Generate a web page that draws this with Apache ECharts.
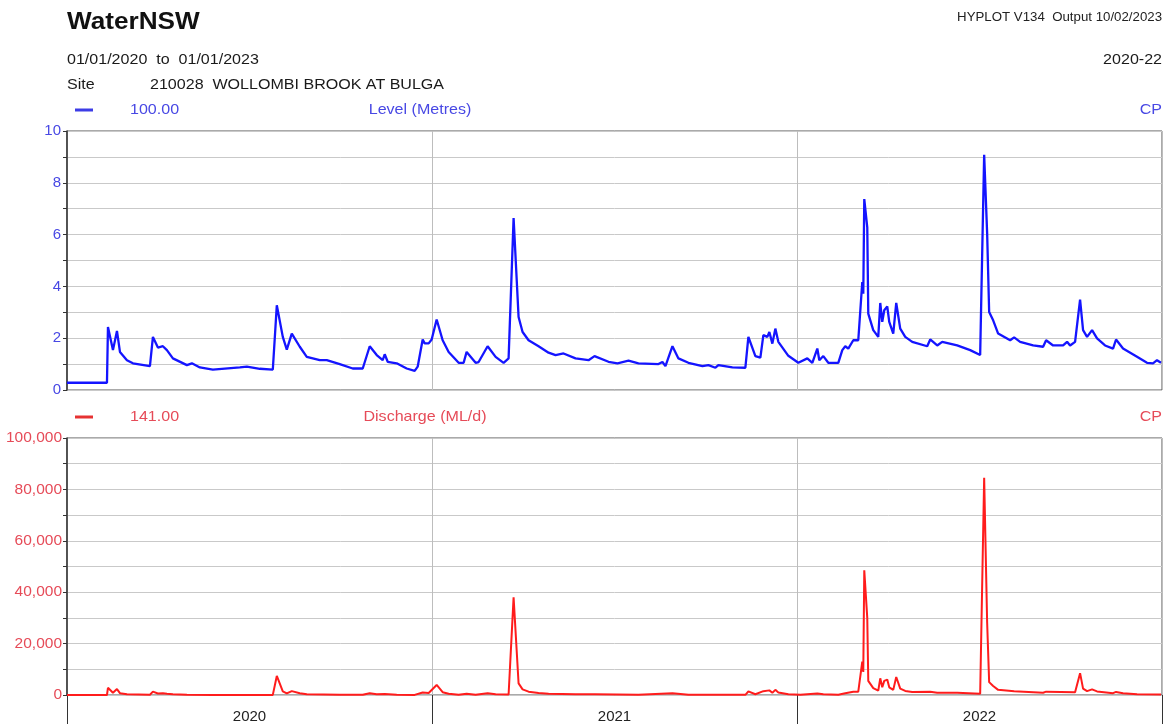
<!DOCTYPE html>
<html>
<head>
<meta charset="utf-8">
<title>WaterNSW - 210028 Wollombi Brook at Bulga</title>
<script src="https://cdn.jsdelivr.net/npm/echarts@6/dist/echarts.min.js"></script>
<style>
  html, body { margin: 0; padding: 0; background: #ffffff; }
  #chart { width: 1168px; height: 724px; }
</style>
</head>
<body>
<div id="chart"></div>
<script>
// Year bands shown along the time axis
const yearLabels = ['2020', '2021', '2022'];

// Level (Metres), gauge 210028
const levelData = [
  ['2020-01-01', 0.28], ['2020-02-10', 0.28], ['2020-02-11', 2.43], ['2020-02-16', 1.54],
  ['2020-02-20', 2.28], ['2020-02-23', 1.47], ['2020-03-01', 1.15], ['2020-03-07', 1.03],
  ['2020-03-24', 0.92], ['2020-03-27', 2.05], ['2020-04-01', 1.64], ['2020-04-06', 1.69],
  ['2020-04-10', 1.54], ['2020-04-16', 1.22], ['2020-04-30', 0.96], ['2020-05-05', 1.03],
  ['2020-05-13', 0.87], ['2020-05-26', 0.79], ['2020-06-22', 0.87], ['2020-06-29', 0.90],
  ['2020-07-12', 0.82], ['2020-07-25', 0.79], ['2020-07-29', 3.27], ['2020-08-04', 2.05],
  ['2020-08-08', 1.56], ['2020-08-13', 2.18], ['2020-08-21', 1.67], ['2020-08-28', 1.28],
  ['2020-09-10', 1.15], ['2020-09-17', 1.15], ['2020-09-30', 1.00], ['2020-10-13', 0.83],
  ['2020-10-23', 0.83], ['2020-10-30', 1.69], ['2020-11-06', 1.35], ['2020-11-12', 1.15],
  ['2020-11-14', 1.38], ['2020-11-17', 1.09], ['2020-11-26', 1.03], ['2020-12-06', 0.83],
  ['2020-12-14', 0.74], ['2020-12-17', 0.90], ['2020-12-22', 1.95], ['2020-12-24', 1.80],
  ['2020-12-28', 1.80], ['2020-12-31', 1.95], ['2021-01-02', 1.92], ['2021-01-05', 2.72],
  ['2021-01-11', 1.92], ['2021-01-17', 1.47], ['2021-01-27', 1.05], ['2021-02-01', 1.05],
  ['2021-02-04', 1.47], ['2021-02-13', 1.05], ['2021-02-16', 1.08], ['2021-02-25', 1.69],
  ['2021-03-05', 1.28], ['2021-03-13', 1.05], ['2021-03-18', 1.22], ['2021-03-23', 6.64],
  ['2021-03-28', 2.82], ['2021-04-01', 2.24], ['2021-04-07', 1.92], ['2021-04-17', 1.69],
  ['2021-04-27', 1.44], ['2021-05-04', 1.35], ['2021-05-12', 1.41], ['2021-05-24', 1.22],
  ['2021-06-06', 1.15], ['2021-06-12', 1.31], ['2021-06-26', 1.09], ['2021-07-05', 1.03],
  ['2021-07-16', 1.13], ['2021-07-26', 1.03], ['2021-08-15', 1.00], ['2021-08-19', 1.08],
  ['2021-08-22', 0.92], ['2021-08-29', 1.69], ['2021-09-04', 1.22], ['2021-09-14', 1.05],
  ['2021-09-28', 0.92], ['2021-10-04', 0.96], ['2021-10-11', 0.86], ['2021-10-14', 0.96],
  ['2021-10-28', 0.87], ['2021-11-10', 0.86], ['2021-11-13', 2.05], ['2021-11-20', 1.31],
  ['2021-11-25', 1.25], ['2021-11-28', 2.12], ['2021-12-02', 2.05], ['2021-12-04', 2.24],
  ['2021-12-07', 1.79], ['2021-12-10', 2.37], ['2021-12-13', 1.86], ['2021-12-23', 1.32],
  ['2022-01-02', 1.05], ['2022-01-04', 1.05], ['2022-01-11', 1.22], ['2022-01-16', 1.05],
  ['2022-01-21', 1.60], ['2022-01-23', 1.15], ['2022-01-27', 1.31], ['2022-02-01', 1.05],
  ['2022-02-11', 1.05], ['2022-02-15', 1.54], ['2022-02-18', 1.69], ['2022-02-21', 1.60],
  ['2022-02-26', 1.92], ['2022-03-03', 1.92], ['2022-03-07', 4.17], ['2022-03-08', 3.72],
  ['2022-03-09', 7.37], ['2022-03-12', 6.28], ['2022-03-13', 2.95], ['2022-03-18', 2.31],
  ['2022-03-23', 2.05], ['2022-03-25', 3.36], ['2022-03-27', 2.63], ['2022-03-29', 3.08],
  ['2022-04-01', 3.23], ['2022-04-03', 2.63], ['2022-04-07', 2.18], ['2022-04-10', 3.36],
  ['2022-04-14', 2.37], ['2022-04-19', 2.05], ['2022-04-26', 1.86], ['2022-05-11', 1.69],
  ['2022-05-14', 1.95], ['2022-05-21', 1.72], ['2022-05-26', 1.86], ['2022-06-10', 1.72],
  ['2022-06-23', 1.54], ['2022-07-03', 1.35], ['2022-07-07', 9.08], ['2022-07-10', 6.03],
  ['2022-07-12', 3.01], ['2022-07-16', 2.69], ['2022-07-21', 2.18], ['2022-08-02', 1.92],
  ['2022-08-06', 2.03], ['2022-08-12', 1.86], ['2022-08-25', 1.72], ['2022-09-04', 1.67],
  ['2022-09-07', 1.92], ['2022-09-14', 1.72], ['2022-09-24', 1.72], ['2022-09-28', 1.86],
  ['2022-10-01', 1.72], ['2022-10-06', 1.86], ['2022-10-11', 3.49], ['2022-10-14', 2.31],
  ['2022-10-18', 2.05], ['2022-10-23', 2.31], ['2022-10-28', 1.99], ['2022-11-05', 1.72],
  ['2022-11-13', 1.60], ['2022-11-16', 1.95], ['2022-11-23', 1.60], ['2022-12-07', 1.28],
  ['2022-12-17', 1.05], ['2022-12-23', 1.03], ['2022-12-27', 1.15], ['2022-12-31', 1.05]
];

// Discharge (ML/d), gauge 210028
const dischargeData = [
  ['2020-01-01', 0], ['2020-02-10', 0], ['2020-02-11', 2800], ['2020-02-16', 900],
  ['2020-02-20', 2300], ['2020-02-23', 700], ['2020-03-01', 250], ['2020-03-24', 120],
  ['2020-03-27', 1300], ['2020-04-01', 600], ['2020-04-06', 700], ['2020-04-10', 500],
  ['2020-04-16', 250], ['2020-04-30', 100], ['2020-05-26', 40], ['2020-07-25', 40],
  ['2020-07-29', 7400], ['2020-08-04', 1400], ['2020-08-08', 600], ['2020-08-13', 1500],
  ['2020-08-21', 700], ['2020-08-28', 250], ['2020-09-30', 100], ['2020-10-23', 60],
  ['2020-10-30', 700], ['2020-11-06', 300], ['2020-11-14', 350], ['2020-11-26', 100],
  ['2020-12-14', 40], ['2020-12-22', 1000], ['2020-12-28', 800], ['2021-01-05', 3900],
  ['2021-01-11', 1100], ['2021-01-17', 500], ['2021-01-27', 120], ['2021-02-04', 500],
  ['2021-02-13', 120], ['2021-02-25', 700], ['2021-03-05', 250], ['2021-03-18', 200],
  ['2021-03-23', 38000], ['2021-03-28', 4500], ['2021-04-01', 2200], ['2021-04-07', 1300],
  ['2021-04-17', 800], ['2021-04-27', 500], ['2021-05-24', 250], ['2021-06-12', 300],
  ['2021-07-26', 120], ['2021-08-29', 700], ['2021-09-14', 120], ['2021-10-11', 50],
  ['2021-11-10', 50], ['2021-11-13', 1400], ['2021-11-20', 300], ['2021-11-28', 1500],
  ['2021-12-04', 1800], ['2021-12-07', 900], ['2021-12-10', 2000], ['2021-12-13', 1000],
  ['2021-12-23', 300], ['2022-01-04', 120], ['2022-01-21', 600], ['2022-01-27', 250],
  ['2022-02-11', 120], ['2022-02-18', 700], ['2022-02-26', 1300], ['2022-03-03', 1300],
  ['2022-03-07', 13000], ['2022-03-08', 9000], ['2022-03-09', 48500], ['2022-03-12', 30000],
  ['2022-03-13', 5500], ['2022-03-18', 2700], ['2022-03-23', 1700], ['2022-03-25', 6500],
  ['2022-03-27', 3000], ['2022-03-29', 5500], ['2022-04-01', 6000], ['2022-04-03', 3000],
  ['2022-04-07', 2000], ['2022-04-10', 7000], ['2022-04-14', 2500], ['2022-04-19', 1600],
  ['2022-04-26', 1200], ['2022-05-14', 1300], ['2022-05-21', 900], ['2022-06-10', 900],
  ['2022-07-03', 500], ['2022-07-07', 84500], ['2022-07-10', 28000], ['2022-07-12', 5000],
  ['2022-07-16', 3500], ['2022-07-21', 2000], ['2022-08-06', 1500], ['2022-09-04', 900],
  ['2022-09-07', 1300], ['2022-10-06', 1100], ['2022-10-11', 8500], ['2022-10-14', 2500],
  ['2022-10-18', 1500], ['2022-10-23', 2200], ['2022-10-28', 1400], ['2022-11-13', 700],
  ['2022-11-16', 1200], ['2022-11-23', 700], ['2022-12-07', 300], ['2022-12-31', 150]
];

const FONT = '"Liberation Sans", Arial, sans-serif';
const BLUE_TEXT = '#4848e4';
const RED_TEXT = '#e64b58';
const GRID_LINE = '#c9c9c9';
const FRAME = '#555555';

// Header text, drawn slightly wide like the HYPLOT print font
function text(x, y, str, opts) {
  opts = opts || {};
  return {
    type: 'text', x: x, y: y, silent: true,
    scaleX: opts.scaleX || 1.07,
    style: {
      text: str,
      font: (opts.weight || 'normal') + ' ' + (opts.size || 15) + 'px ' + FONT,
      fill: opts.color || '#1a1a1a',
      textAlign: opts.align || 'left',
      textVerticalAlign: 'middle'
    }
  };
}

function dash(x1, x2, y, color) {
  return {
    type: 'line', silent: true,
    shape: { x1: x1, y1: y, x2: x2, y2: y },
    style: { stroke: color, lineWidth: 3 }
  };
}

const timeAxisBase = {
  type: 'time', min: '2020-01-01', max: '2023-01-01', show: false
};

const yearAxisBase = {
  type: 'category', data: yearLabels, boundaryGap: true, position: 'bottom',
  axisLine: { show: false },
  splitLine: { show: true, lineStyle: { color: '#bdbdbd', width: 1 } }
};

const chart = echarts.init(document.getElementById('chart'), null, { renderer: 'canvas' });

chart.setOption({
  backgroundColor: '#ffffff',
  animation: false,
  textStyle: { fontFamily: FONT },
  grid: [
    { left: 67, top: 131, width: 1095, height: 259, show: true, borderColor: FRAME, borderWidth: 1, backgroundColor: 'transparent' },
    { left: 67, top: 438, width: 1095, height: 259, show: true, borderColor: FRAME, borderWidth: 1, backgroundColor: 'transparent' }
  ],
  xAxis: [
    Object.assign({ gridIndex: 0 }, timeAxisBase),
    Object.assign({ gridIndex: 1 }, timeAxisBase),
    Object.assign({ gridIndex: 0 }, yearAxisBase, {
      axisTick: { show: false }, axisLabel: { show: false }
    }),
    Object.assign({ gridIndex: 1 }, yearAxisBase, {
      axisTick: { show: true, length: 30, lineStyle: { color: '#333333', width: 1 } },
      axisLabel: { show: true, margin: 14, fontSize: 15, color: '#222222', fontFamily: FONT }
    })
  ],
  yAxis: [
    {
      gridIndex: 0, type: 'value', min: 0, max: 10, interval: 1,
      axisLine: { show: true, lineStyle: { color: '#333333', width: 1.5 } },
      axisTick: { show: true, length: 4, lineStyle: { color: '#333333' } },
      axisLabel: {
        margin: 6, fontSize: 15, color: BLUE_TEXT, fontFamily: FONT,
        formatter: function (v) { return v % 2 === 0 ? String(v) : ''; }
      },
      splitLine: { show: true, lineStyle: { color: GRID_LINE, width: 1 } }
    },
    {
      gridIndex: 1, type: 'value', min: 0, max: 100000, interval: 10000,
      axisLine: { show: true, lineStyle: { color: '#333333', width: 1.5 } },
      axisTick: { show: true, length: 4, lineStyle: { color: '#333333' } },
      axisLabel: {
        margin: 5, fontSize: 15.5, color: RED_TEXT, fontFamily: FONT,
        formatter: function (v) { return v % 20000 === 0 ? v.toLocaleString('en-US') : ''; }
      },
      splitLine: { show: true, lineStyle: { color: GRID_LINE, width: 1 } }
    }
  ],
  series: [
    {
      name: 'Level (Metres)', type: 'line', xAxisIndex: 0, yAxisIndex: 0,
      data: levelData, showSymbol: false, symbol: 'none',
      lineStyle: { color: '#1414ff', width: 2.3 }, z: 5
    },
    {
      name: 'Discharge (ML/d)', type: 'line', xAxisIndex: 1, yAxisIndex: 1,
      data: dischargeData, showSymbol: false, symbol: 'none',
      lineStyle: { color: '#ff1c1c', width: 2 }, z: 5
    }
  ],
  graphic: [
    text(67, 22, 'WaterNSW', { size: 24, weight: 'bold', color: '#111111', scaleX: 1.09 }),
    text(1162, 17, 'HYPLOT V134  Output 10/02/2023', { size: 13, align: 'right', color: '#222222', scaleX: 1.02 }),
    text(67, 60, '01/01/2020  to  01/01/2023'),
    text(1162, 60, '2020-22', { align: 'right' }),
    text(67, 85, 'Site'),
    text(150, 85, '210028  WOLLOMBI BROOK AT BULGA'),
    dash(75, 93, 110, '#3c3ce6'),
    text(130, 110, '100.00', { color: BLUE_TEXT }),
    text(420, 110, 'Level (Metres)', { color: BLUE_TEXT, align: 'center' }),
    text(1162, 110, 'CP', { align: 'right', color: BLUE_TEXT }),
    dash(75, 93, 417, '#e63232'),
    text(130, 417, '141.00', { color: RED_TEXT }),
    text(425, 417, 'Discharge (ML/d)', { color: RED_TEXT, align: 'center' }),
    text(1162, 417, 'CP', { align: 'right', color: RED_TEXT })
  ]
});
</script>
</body>
</html>
